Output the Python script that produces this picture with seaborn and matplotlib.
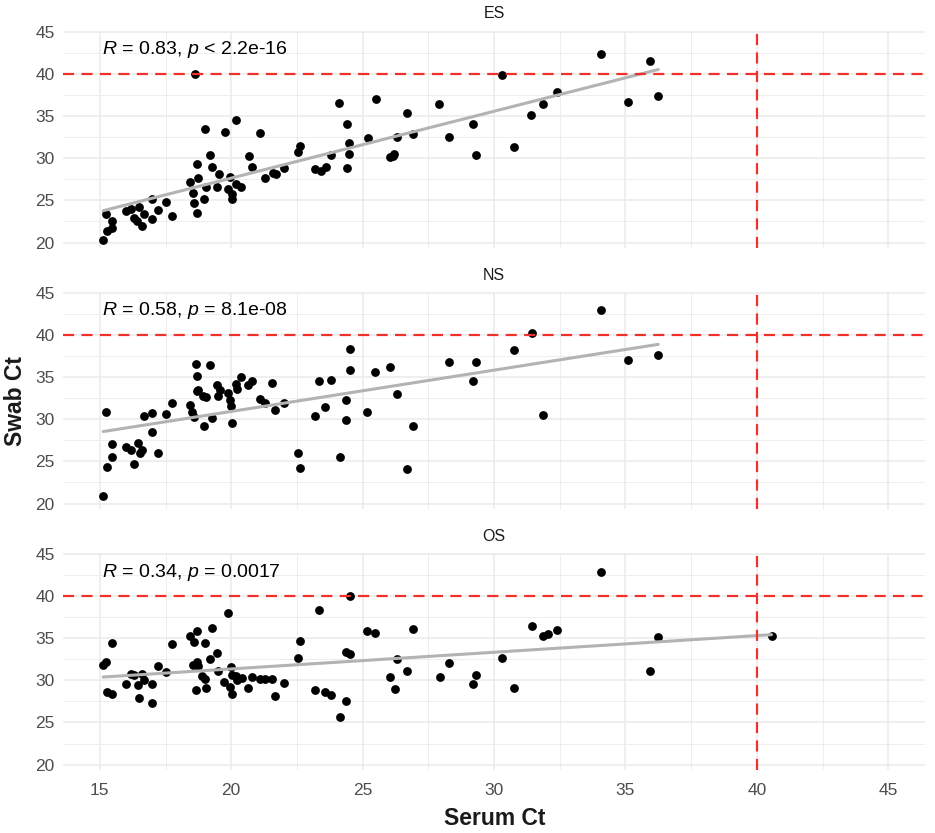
import numpy as np
import matplotlib
matplotlib.use("Agg")
import matplotlib.pyplot as plt
from matplotlib.ticker import MultipleLocator
import seaborn as sns

# --- data (Serum Ct vs Swab Ct) ---
es_serum = [15.13, 15.25, 15.28, 15.48, 15.48, 16.0, 16.17, 16.3, 16.4, 16.5, 16.6, 16.67,
            16.98, 17.0, 17.23, 17.5, 17.74, 18.45, 18.55, 18.57, 18.62, 18.68, 18.68, 18.75,
            18.98, 19.0, 19.03, 19.18, 19.26, 19.46, 19.52, 19.75, 19.87, 19.97, 20.04, 20.03,
            20.2, 20.2, 20.37, 20.68, 20.8, 21.1, 21.3, 21.6, 21.7, 22.0, 22.55, 22.6,
            23.2, 23.4, 23.6, 23.8, 24.1, 24.4, 24.4, 24.5, 24.5, 25.2, 25.5, 26.05,
            26.15, 26.2, 26.3, 26.7, 26.9, 27.9, 28.3, 29.2, 29.32, 30.3, 30.75, 31.4,
            31.87, 32.4, 34.07, 35.1, 35.94, 36.25]
es_swab = [20.3, 23.4, 21.4, 22.5, 21.7, 23.75, 23.95, 22.9, 22.6, 24.2, 22.0, 23.4,
           25.2, 22.8, 23.9, 24.8, 23.2, 27.2, 25.9, 24.7, 40.0, 29.3, 23.5, 27.7,
           25.2, 33.4, 26.6, 30.4, 28.9, 26.6, 28.1, 33.1, 26.4, 27.8, 25.8, 25.2,
           34.5, 26.9, 26.6, 30.3, 28.9, 33.0, 27.7, 28.2, 28.1, 28.8, 30.7, 31.5,
           28.7, 28.45, 29.0, 30.35, 36.6, 34.1, 28.8, 31.8, 30.5, 32.4, 37.05, 30.1,
           30.2, 30.45, 32.55, 35.3, 32.9, 36.4, 32.55, 34.06, 30.35, 39.9, 31.3, 35.1,
           36.4, 37.8, 42.35, 36.7, 41.56, 37.4]

ns_serum = [15.13, 15.25, 15.28, 15.46, 15.48, 16.0, 16.17, 16.32, 16.44, 16.52, 16.62, 16.67,
            16.98, 16.98, 17.23, 17.5, 17.74, 18.45, 18.52, 18.57, 18.65, 18.68, 18.68, 18.75,
            18.93, 18.98, 19.03, 19.18, 19.26, 19.46, 19.49, 19.56, 19.87, 19.97, 20.0, 20.04,
            20.17, 20.22, 20.37, 20.65, 20.78, 21.1, 21.29, 21.57, 21.67, 22.0, 22.55, 22.6,
            23.2, 23.34, 23.57, 23.8, 24.13, 24.38, 24.38, 24.53, 24.53, 25.17, 25.47, 26.03,
            26.3, 26.7, 26.9, 28.28, 29.2, 29.32, 30.75, 31.45, 31.87, 34.07, 35.1, 36.25]
ns_swab = [20.87, 30.87, 24.37, 25.5, 27.1, 26.7, 26.4, 24.7, 27.2, 26.0, 26.4, 30.35,
           28.5, 30.7, 26.0, 30.6, 31.9, 31.65, 30.9, 30.25, 36.6, 35.1, 33.3, 33.45,
           32.7, 29.2, 32.6, 36.4, 30.2, 34.1, 32.7, 33.5, 33.15, 32.3, 31.6, 29.5,
           34.2, 33.6, 35.0, 34.0, 34.55, 32.4, 31.95, 34.3, 31.1, 31.9, 26.0, 24.2,
           30.4, 34.5, 31.5, 34.65, 25.5, 32.3, 29.9, 38.3, 35.8, 30.8, 35.6, 36.2,
           33.0, 24.1, 29.25, 36.8, 34.57, 36.77, 38.15, 40.28, 30.5, 43.0, 37.0, 37.56]

os_serum = [15.13, 15.23, 15.28, 15.48, 15.48, 16.0, 16.17, 16.32, 16.47, 16.5, 16.6, 16.67,
            16.98, 16.98, 17.23, 17.5, 17.74, 18.45, 18.55, 18.6, 18.65, 18.68, 18.7, 18.75,
            18.9, 19.0, 19.0, 19.03, 19.18, 19.26, 19.46, 19.51, 19.74, 19.87, 19.94, 19.99,
            20.02, 20.04, 20.17, 20.22, 20.4, 20.65, 20.78, 21.1, 21.29, 21.57, 21.67, 22.0,
            22.55, 22.6, 23.2, 23.34, 23.57, 23.8, 24.13, 24.38, 24.38, 24.53, 24.53, 25.17,
            25.47, 26.03, 26.23, 26.3, 26.7, 26.9, 27.93, 28.28, 29.2, 29.32, 30.3, 30.75,
            31.45, 31.86, 32.05, 32.39, 34.07, 35.94, 36.25, 40.56]
os_swab = [31.8, 32.15, 28.6, 34.45, 28.4, 29.6, 30.8, 30.6, 29.4, 27.9, 30.7, 30.0,
           29.6, 27.3, 31.7, 31.0, 34.25, 35.2, 31.8, 34.5, 28.8, 35.9, 32.15, 31.7,
           30.5, 34.4, 30.1, 29.05, 32.5, 36.2, 33.2, 31.05, 29.8, 38.0, 29.2, 31.6,
           30.6, 28.4, 30.5, 30.0, 30.3, 29.05, 30.35, 30.1, 30.1, 30.1, 28.1, 29.7,
           32.7, 34.6, 28.85, 38.3, 28.6, 28.2, 25.6, 27.55, 33.35, 33.1, 39.96, 35.9,
           35.55, 30.4, 29.0, 32.5, 31.15, 36.1, 30.35, 32.0, 29.57, 30.63, 32.7, 29.1,
           36.4, 35.3, 35.5, 35.95, 42.8, 31.06, 35.16, 35.24]

panels = ["ES", "NS", "OS"]
labels = ["0.83, $p$ < 2.2e-16", "0.58, $p$ = 8.1e-08", "0.34, $p$ = 0.0017"]
series = [(es_serum, es_swab), (ns_serum, ns_swab), (os_serum, os_swab)]

sns.set_theme(style="whitegrid")
plt.rcParams["font.family"] = ["Liberation Sans", "DejaVu Sans"]
plt.rcParams["mathtext.fontset"] = "custom"
plt.rcParams["mathtext.it"] = "Liberation Sans:italic"
plt.rcParams["mathtext.rm"] = "Liberation Sans"

fig, axes = plt.subplots(3, 1, figsize=(9.35, 8.33), dpi=100, sharex=True)
fig.subplots_adjust(left=0.0674, right=0.9893, top=0.9628, bottom=0.0755, hspace=0.203)

for ax, name, lab, (sx, sy) in zip(axes, panels, labels, series):
    ax.set_facecolor("white")
    sns.scatterplot(x=sx, y=sy, ax=ax, color="black", s=40, linewidth=0, zorder=3)
    sns.regplot(x=sx, y=sy, ax=ax, scatter=False, ci=None, color="#B3B3B3",
                line_kws={"lw": 2.2, "zorder": 4})
    # cut-off lines at Ct 40
    ax.axhline(40, color="#F0302A", lw=1.6, dashes=(5, 3.3), zorder=5)
    ax.axvline(40, color="#F0302A", lw=1.6, dashes=(5, 3.3), zorder=5)
    ax.text(15.1, 42.3, "$R$ = " + lab, fontsize=14, color="black", va="baseline")

    ax.set_xlim(13.6, 46.4)
    ax.set_ylim(19.35, 45.08)
    ax.set_xticks([15, 20, 25, 30, 35, 40, 45])
    ax.set_yticks([20, 25, 30, 35, 40, 45])
    ax.xaxis.set_minor_locator(MultipleLocator(2.5))
    ax.yaxis.set_minor_locator(MultipleLocator(2.5))
    ax.grid(which="major", color="#EBEBEB", lw=1.1)
    ax.grid(which="minor", color="#EBEBEB", lw=0.6)
    ax.tick_params(which="both", length=0, labelsize=12.5, labelcolor="#4D4D4D")
    ax.tick_params(axis="y", pad=6)
    ax.tick_params(axis="x", pad=9)
    for s in ax.spines.values():
        s.set_visible(False)
    ax.set_xlabel("")
    ax.set_ylabel("")
    ax.set_title(name, fontsize=11.5, color="#1A1A1A", pad=9)

fig.text(0.017, 0.519, "Swab Ct", rotation=90, ha="center", va="center",
         fontsize=16.5, fontweight="bold", color="#1A1A1A")
fig.text(0.529, 0.018, "Serum Ct", ha="center", va="center",
         fontsize=16.5, fontweight="bold", color="#1A1A1A")

plt.savefig("out.png", dpi=100)
plt.close()
